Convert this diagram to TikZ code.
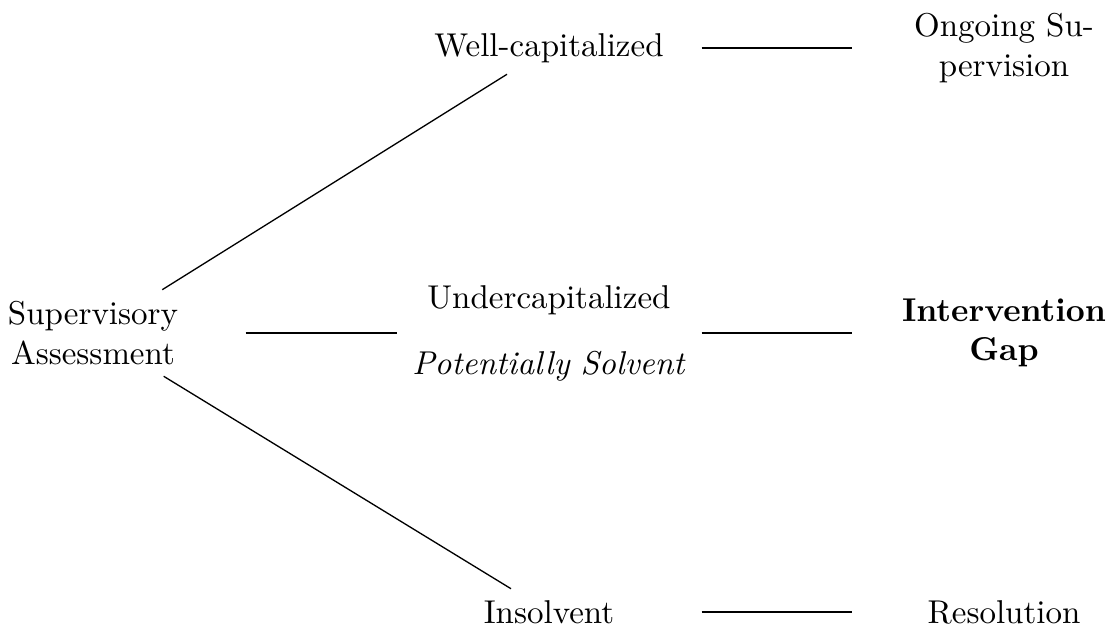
\documentclass[tikz,border=0pt]{standalone}
\usepackage{amsmath}
\usepackage{tikz}

\tikzset{
    box/.style={text width=3cm, align=center, inner sep=3.33pt}
}

\begin{document}
\begin{tikzpicture}[x=0.303pt,y=-0.303pt]
    \useasboundingbox (0,0) rectangle (1108,631);

    % Place the nodes
    \node[box] (sa) at (93,333) {Supervisory\\Assessment};
    \node[box] (wc) at (549,48) {Well-capitalized};
    \node[box] (uc) at (549,333) {Undercapitalized\\[8pt]\textit{Potentially Solvent}};
    \node[box] (in) at (549,612) {Insolvent};
    \node[box] (os) at (1004,48) {Ongoing Su-\\pervision};
    \node[box,font=\bfseries] (ig) at (1004,333) {Intervention\\Gap};
    \node[box] (re) at (1004,612) {Resolution};

    % Draw the lines
    \draw (sa) -- (wc);
    \draw (sa) -- (uc);
    \draw (sa) -- (in);
    \draw (wc) -- (os);
    \draw (uc) -- (ig);
    \draw (in) -- (re);

\end{tikzpicture}
\end{document}
